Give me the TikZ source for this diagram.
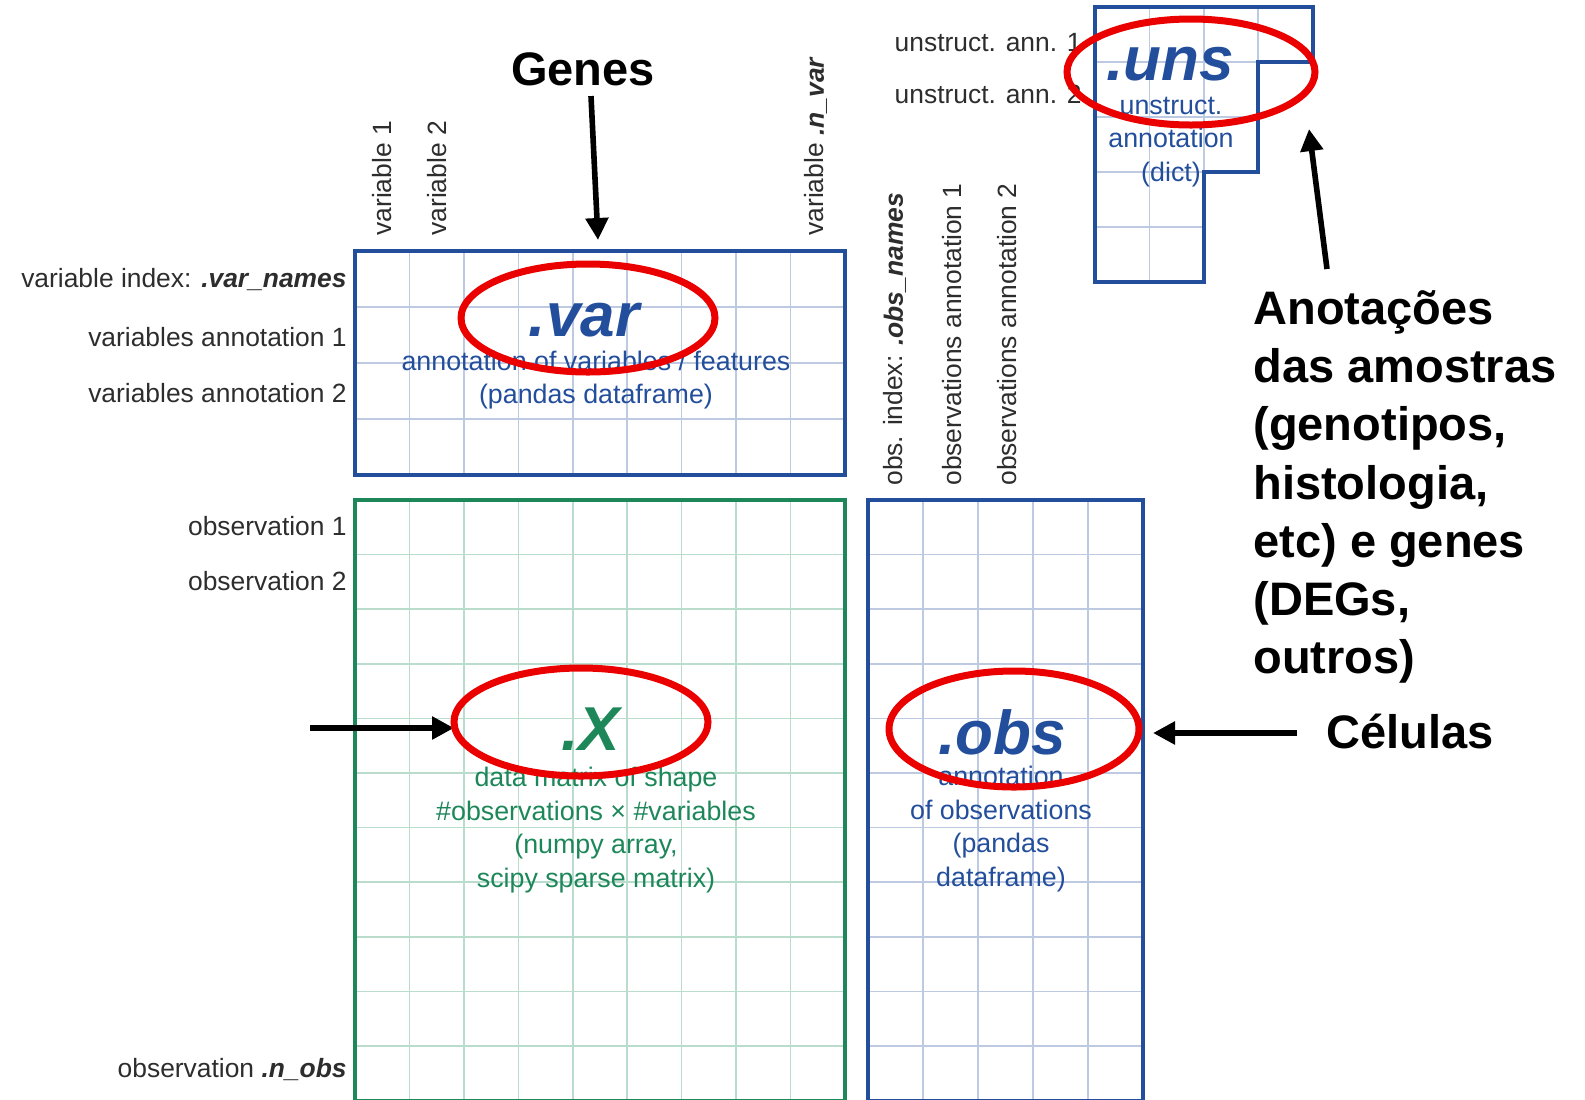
\documentclass[tikz,border=0pt]{standalone}
\usepackage{fontspec}
\setmainfont{Liberation Sans}
\usetikzlibrary{arrows.meta}

\definecolor{azul}{RGB}{35,78,155}
\definecolor{azulclaro}{RGB}{190,202,226}
\definecolor{verde}{RGB}{30,135,90}
\definecolor{verdeclaro}{RGB}{186,220,205}
\definecolor{gris}{RGB}{45,45,45}
\definecolor{rojo}{RGB}{235,0,0}

\tikzset{
  etiqueta/.style={inner sep=0pt, text=gris, font=\fontsize{13.2}{16}\selectfont},
  titulo/.style={inner sep=0pt, font=\bfseries\itshape\fontsize{31}{36}\selectfont},
  texto/.style={inner sep=0pt, align=center, font=\fontsize{13.4}{16.8}\selectfont},
  grande/.style={inner sep=0pt, font=\bfseries\fontsize{23.5}{29.1}\selectfont},
  borde/.style={line width=2pt},
  linea/.style={line width=0.8pt},
  marca/.style={draw=rojo, line width=3.5pt},
  flecha/.style={line width=2.8pt, -{Triangle[length=11pt,width=11pt]}},
}

\begin{document}
\begin{tikzpicture}[x=0.5pt, y=-0.5pt]
	\useasboundingbox (0,0) rectangle (1585,1099);

	% rejilla de .var: 9 columnas, 4 filas
	\foreach \i in {1,...,8} \draw[linea, azulclaro] (355+54.44*\i, 251) -- (355+54.44*\i, 475);
	\foreach \j in {1,...,3} \draw[linea, azulclaro] (355, 251+56*\j) -- (845, 251+56*\j);
	\draw[borde, azul] (355, 251) rectangle (845, 475);

	% rejilla de .X: 9 columnas, 11 filas
	\foreach \i in {1,...,8} \draw[linea, verdeclaro] (355+54.44*\i, 500) -- (355+54.44*\i, 1101);
	\foreach \j in {1,...,10} \draw[linea, verdeclaro] (355, 500+54.6*\j) -- (845, 500+54.6*\j);
	\draw[borde, verde] (355, 500) rectangle (845, 1100.6);

	% rejilla de .obs: 5 columnas
	\foreach \i in {1,...,4} \draw[linea, azulclaro] (868+55*\i, 500) -- (868+55*\i, 1101);
	\foreach \j in {1,...,10} \draw[linea, azulclaro] (868, 500+54.6*\j) -- (1143, 500+54.6*\j);
	\draw[borde, azul] (868, 500) rectangle (1143, 1100.6);

	% .uns en escalera
	\draw[linea, azulclaro] (1149.5, 7) -- (1149.5, 282);
	\draw[linea, azulclaro] (1204, 7) -- (1204, 172);
	\draw[linea, azulclaro] (1258, 7) -- (1258, 62);
	\draw[linea, azulclaro] (1095, 62) -- (1258, 62);
	\draw[linea, azulclaro] (1095, 117) -- (1258, 117);
	\draw[linea, azulclaro] (1095, 172) -- (1204, 172);
	\draw[linea, azulclaro] (1095, 227) -- (1204, 227);
	\draw[borde, azul] (1095, 7) -- (1313, 7) -- (1313, 62) -- (1258, 62) -- (1258, 172)
		-- (1204, 172) -- (1204, 282) -- (1095, 282) -- cycle;

	% etiquetas de las filas
	\node[etiqueta, anchor=east] (varidx) at (347, 280) {variable index: \textbf{\textit{.var\_names}}};
	\node[etiqueta, anchor=east] (varann1) at (347, 337) {variables annotation 1};
	\node[etiqueta, anchor=east] (varann2) at (347, 393) {variables annotation 2};
	\node[etiqueta, anchor=east] (obs1) at (347, 526) {observation 1};
	\node[etiqueta, anchor=east] (obs2) at (347, 581) {observation 2};
	\node[etiqueta, anchor=east] (obsn) at (347, 1070) {observation \textbf{\textit{.n\_obs}}};
	\node[etiqueta, anchor=east] (unsann1) at (1082, 43) {unstruct. ann. 1};
	\node[etiqueta, anchor=east] (unsann2) at (1082, 94) {unstruct. ann. 2};

	% etiquetas de las columnas
	\node[etiqueta, rotate=90, anchor=west] (var1) at (382, 236) {variable 1};
	\node[etiqueta, rotate=90, anchor=west] (var2) at (437, 236) {variable 2};
	\node[etiqueta, rotate=90, anchor=west] (varn) at (816, 236) {variable \textbf{\textit{.n\_var}}};
	\node[etiqueta, rotate=90, anchor=west] (obsidx) at (895, 486) {obs. index: \textbf{\textit{.obs\_names}}};
	\node[etiqueta, rotate=90, anchor=west] (obsann1) at (952, 486) {observations annotation 1};
	\node[etiqueta, rotate=90, anchor=west] (obsann2) at (1007, 486) {observations annotation 2};

	% textos de las cajas
	\node[titulo, text=azul] (vartit) at (584, 320) {.var};
	\node[texto, text=azul] (vartxt) at (596, 380) {annotation of variables / features\\(pandas dataframe)};
	\node[titulo, text=verde] (xtit) at (591, 729) {.X};
	\node[texto, text=verde] (xtxt) at (596, 830) {data matrix of shape\\\#observations × \#variables\\(numpy array,\\scipy sparse matrix)};
	\node[titulo, text=azul] (obstit) at (1002, 732) {.obs};
	\node[texto, text=azul] (obstxt) at (1001, 829) {annotation\\of observations\\(pandas\\dataframe)};
	\node[titulo, text=azul] (unstit) at (1170, 64) {.uns};
	\node[texto, text=azul] (unstxt) at (1171, 142) {unstruct.\\annotation\\(dict)};

	% textos en negro
	\node[grande] (genes) at (583, 69) {Genes};
	\node[grande] (celulas) at (1410, 731) {Células};
	\node[grande, anchor=west, align=left] (anotacoes) at (1253, 487)
		{Anotações\\das amostras\\(genotipos,\\histologia,\\etc) e genes\\(DEGs,\\outros)};

	% flechas
	\coordinate (genesfim) at (598, 240);
	\coordinate (xini) at (310, 728);
	\coordinate (xfim) at (454, 728);
	\coordinate (celini) at (1297, 733);
	\coordinate (celfim) at (1153, 733);
	\coordinate (anoini) at (1327, 269);
	\coordinate (anofim) at (1309, 129);
	\draw[flecha] ([xshift=4pt, yshift=-5pt]genes.south) -- (genesfim);
	\draw[flecha] (xini) -- (xfim);
	\draw[flecha] (celini) -- (celfim);
	\draw[flecha] (anoini) -- (anofim);

	% elipses rojas
	\draw[marca] (588, 318) ellipse [x radius=127, y radius=54];
	\draw[marca] (581, 722) ellipse [x radius=127, y radius=54];
	\draw[marca] (1014, 729) ellipse [x radius=125, y radius=58];
	\draw[marca] (1191, 72) ellipse [x radius=124, y radius=53];
\end{tikzpicture}
\end{document}
